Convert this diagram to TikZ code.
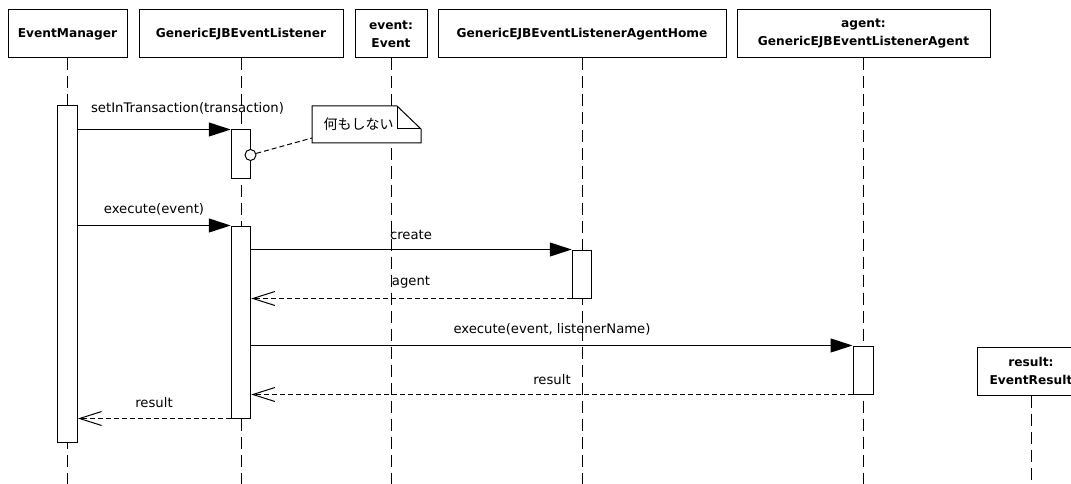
\documentclass[tikz,border=0pt]{standalone}
\usepackage{fontspec}
\setmainfont{DejaVu Sans}
\newfontfamily\jpfont{Noto Sans CJK JP}
\usetikzlibrary{arrows.meta,calc}
\begin{document}
\begin{tikzpicture}[x=1pt,y=-1pt,line width=1pt,
  obj/.style={draw,fill=white,font=\fontsize{12.2}{18}\selectfont\bfseries,align=center,inner sep=0pt,minimum height=48pt},
  act/.style={draw,fill=white,inner sep=0pt,minimum width=19.5pt},
  lifeline/.style={dash pattern=on 12pt off 6pt},
  msg/.style={font=\fontsize{13.2}{15}\selectfont,inner sep=0pt,anchor=base},
  sync/.style={-{Triangle[length=22pt,width=14pt]}},
  ret/.style={dash pattern=on 5pt off 3pt,-{Straight Barb[length=22pt,width=14pt]}},
  notelink/.style={dash pattern=on 5pt off 3pt}]
\fill[white] (0,0) rectangle (1071,484);
\useasboundingbox (0,0) rectangle (1071,484);
\clip (0,0) rectangle (1071,484);
\coordinate (bot) at (0,484);

% object boxes
\node[obj,minimum width=119pt] (em) at (67.5,34) {EventManager};
\node[obj,minimum width=204pt] (gl) at (241,34) {GenericEJBEventListener};
\node[obj,minimum width=72pt] (ev) at (391,34) {event:\\Event};
\node[obj,minimum width=288pt] (home) at (582,34) {GenericEJBEventListenerAgentHome};
\node[obj,minimum width=253pt] (ag) at (863.5,34) {agent:\\GenericEJBEventListenerAgent};

% lifelines
\draw[lifeline] (em.south) -- (em.south |- bot);
\draw[lifeline] (gl.south) -- (gl.south |- bot);
\draw[lifeline] (ev.south) -- (ev.south |- bot);
\draw[lifeline] (home.south) -- (home.south |- bot);
\draw[lifeline] (ag.south) -- (ag.south |- bot);

% result object (created later)
\node[obj,minimum width=108pt] (res) at (1031,371) {result:\\EventResult};
\draw[lifeline] (res.south) -- (res.south |- bot);

% activations
\node[act,minimum width=20pt,minimum height=336pt] (emA) at (67.5,274) {};
\node[act,minimum height=48pt] (l1) at (241,154) {};
\node[act,minimum height=192pt] (l2) at (241,322) {};
\node[act,minimum height=48pt] (hA) at (582,274) {};
\node[act,minimum width=20pt,minimum height=48pt] (agA) at (863,370) {};

% note
\node[minimum width=108pt,minimum height=36pt,inner sep=0pt] (note) at (366.5,124.5) {};
\draw[fill=white] (note.south west) -- (note.north west) -- ($(note.north east)+(-24,0)$)
  -- ($(note.north east)+(0,23)$) -- (note.south east) -- cycle;
\draw ($(note.north east)+(-24,0)$) -- ($(note.north east)+(-24,23)$) -- ($(note.north east)+(0,23)$);
\node[font=\jpfont\fontsize{14}{16}\selectfont,inner sep=0pt] (notetxt) at (358.5,124) {何もしない};
\node[circle,draw,fill=white,minimum size=11pt,inner sep=0pt] (circ) at (250.5,155) {};
\draw[notelink] (circ) -- ($(note.south west)+(0,-5)$);

% messages
\draw[sync] (emA.east |- l1.north west) -- (l1.north west);
\node[msg] (t1) at (187.5,112.7) {setInTransaction(transaction)};

\draw[sync] (emA.east |- l2.north west) -- (l2.north west);
\node[msg] (t2) at (154,213.7) {execute(event)};

\draw[sync] (l2.east |- hA.north west) -- (hA.north west);
\node[msg] (t3) at (411,239) {create};

\draw[ret] (hA.south west) -- (l2.east |- hA.south west);
\node[msg] (t4) at (411,285.7) {agent};

\draw[sync] (l2.east |- agA.north west) -- (agA.north west);
\node[msg] (t5) at (552,333.7) {execute(event, listenerName)};

\draw[ret] (agA.south west) -- (l2.east |- agA.south west);
\node[msg] (t6) at (552,384.3) {result};

\draw[ret] (l2.south west) -- (emA.east |- l2.south west);
\node[msg] (t7) at (154,407.7) {result};
\end{tikzpicture}
\end{document}
